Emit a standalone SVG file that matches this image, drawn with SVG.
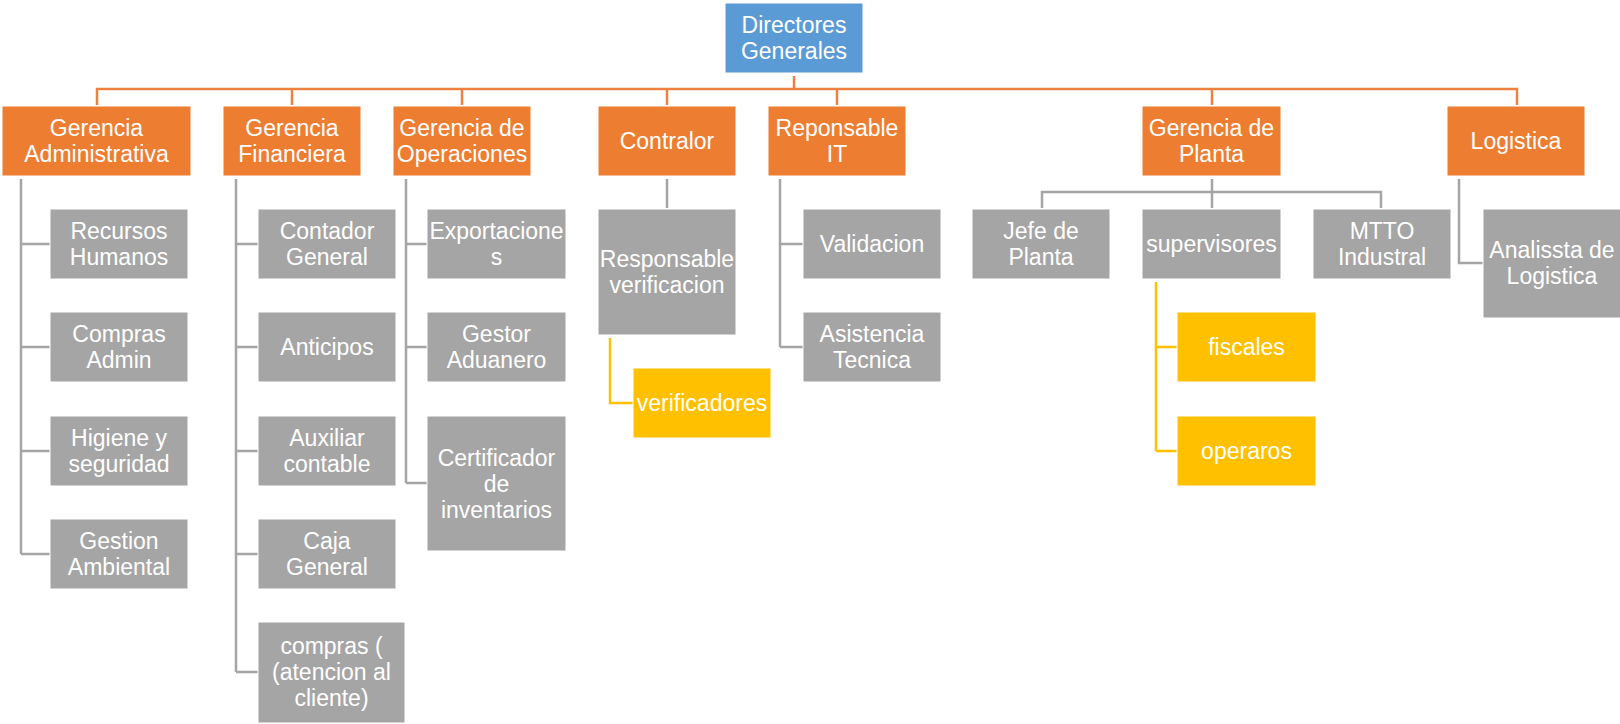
<svg xmlns="http://www.w3.org/2000/svg" width="1620" height="724" viewBox="0 0 1620 724">
<style>
.o{fill:#ED7D31}
.g{fill:#A5A5A5}
.y{fill:#FFC000}
.b{fill:#5B9BD5}
rect{stroke:#fff;stroke-width:1}
text{font-family:"Liberation Sans",Arial,sans-serif;font-size:23px;fill:#fff;text-anchor:middle}
.co{stroke:#EE8142;stroke-width:2.5;fill:none}
.cg{stroke:#A5A5A5;stroke-width:2.5;fill:none}
.cy{stroke:#FFC000;stroke-width:2.5;fill:none}
</style>
<rect width="1620" height="724" fill="#fff" stroke="none"/>
<g id="connectors">
<path class="co" d="M794 76V89M97 105V89H1517V105M292 89V105M462 89V105M667 89V105M837 89V105M1212 89V105"/>
<path class="cg" d="M21 179V554M21 244H50M21 347H50M21 451H50M21 554H50"/>
<path class="cg" d="M236 179V672M236 244H258M236 347H258M236 451H258M236 554H258M236 672H258"/>
<path class="cg" d="M406 179V483M406 244H427M406 347H427M406 483H427"/>
<path class="cg" d="M667 179V208"/>
<path class="cg" d="M780 179V347M780 244H803M780 347H803"/>
<path class="cg" d="M1212 179V208M1042 208V192H1381V208"/>
<path class="cg" d="M1459 179V263H1483"/>
<path class="cy" d="M610 338V403H633"/>
<path class="cy" d="M1156 282V451M1156 347H1177M1156 451H1177"/>
</g>
<g id="n-directores"><rect class="b" x="725" y="3" width="138" height="70"/><text x="794" y="33">Directores</text><text x="794" y="59">Generales</text></g>
<g id="n-admin"><rect class="o" x="2" y="106" width="189" height="70"/><text x="96.5" y="136">Gerencia</text><text x="96.5" y="162">Administrativa</text></g>
<g id="n-financiera"><rect class="o" x="223" y="106" width="138" height="70"/><text x="292" y="136">Gerencia</text><text x="292" y="162">Financiera</text></g>
<g id="n-operaciones"><rect class="o" x="393" y="106" width="138" height="70"/><text x="462" y="136">Gerencia de</text><text x="462" y="162">Operaciones</text></g>
<g id="n-contralor"><rect class="o" x="598" y="106" width="138" height="70"/><text x="667" y="149">Contralor</text></g>
<g id="n-it"><rect class="o" x="768" y="106" width="138" height="70"/><text x="837" y="136">Reponsable</text><text x="837" y="162">IT</text></g>
<g id="n-planta"><rect class="o" x="1142" y="106" width="139" height="70"/><text x="1211.5" y="136">Gerencia de</text><text x="1211.5" y="162">Planta</text></g>
<g id="n-logistica"><rect class="o" x="1447" y="106" width="138" height="70"/><text x="1516" y="149">Logistica</text></g>

<g id="n-rh"><rect class="g" x="50" y="209" width="138" height="70"/><text x="119" y="239">Recursos</text><text x="119" y="265">Humanos</text></g>
<g id="n-compras-admin"><rect class="g" x="50" y="312" width="138" height="70"/><text x="119" y="342">Compras</text><text x="119" y="368">Admin</text></g>
<g id="n-higiene"><rect class="g" x="50" y="416" width="138" height="70"/><text x="119" y="446">Higiene y</text><text x="119" y="472">seguridad</text></g>
<g id="n-gestion"><rect class="g" x="50" y="519" width="138" height="70"/><text x="119" y="549">Gestion</text><text x="119" y="575">Ambiental</text></g>

<g id="n-contador"><rect class="g" x="258" y="209" width="138" height="70"/><text x="327" y="239">Contador</text><text x="327" y="265">General</text></g>
<g id="n-anticipos"><rect class="g" x="258" y="312" width="138" height="70"/><text x="327" y="355">Anticipos</text></g>
<g id="n-auxiliar"><rect class="g" x="258" y="416" width="138" height="70"/><text x="327" y="446">Auxiliar</text><text x="327" y="472">contable</text></g>
<g id="n-caja"><rect class="g" x="258" y="519" width="138" height="70"/><text x="327" y="549">Caja</text><text x="327" y="575">General</text></g>
<g id="n-compras"><rect class="g" x="258" y="622" width="147" height="101"/><text x="331.5" y="654">compras (</text><text x="331.5" y="680">(atencion al</text><text x="331.5" y="706">cliente)</text></g>

<g id="n-export"><rect class="g" x="427" y="209" width="139" height="70"/><text x="496.5" y="239">Exportacione</text><text x="496.5" y="265">s</text></g>
<g id="n-gestor"><rect class="g" x="427" y="312" width="139" height="70"/><text x="496.5" y="342">Gestor</text><text x="496.5" y="368">Aduanero</text></g>
<g id="n-certificador"><rect class="g" x="427" y="416" width="139" height="135"/><text x="496.5" y="466">Certificador</text><text x="496.5" y="492">de</text><text x="496.5" y="518">inventarios</text></g>

<g id="n-resp-verif"><rect class="g" x="598" y="209" width="138" height="126"/><text x="667" y="267">Responsable</text><text x="667" y="293">verificacion</text></g>
<g id="n-verificadores"><rect class="y" x="633" y="368" width="138" height="70"/><text x="702" y="411">verificadores</text></g>

<g id="n-validacion"><rect class="g" x="803" y="209" width="138" height="70"/><text x="872" y="252">Validacion</text></g>
<g id="n-asistencia"><rect class="g" x="803" y="312" width="138" height="70"/><text x="872" y="342">Asistencia</text><text x="872" y="368">Tecnica</text></g>

<g id="n-jefe"><rect class="g" x="972" y="209" width="138" height="70"/><text x="1041" y="239">Jefe de</text><text x="1041" y="265">Planta</text></g>
<g id="n-supervisores"><rect class="g" x="1142" y="209" width="139" height="70"/><text x="1211.5" y="252">supervisores</text></g>
<g id="n-mtto"><rect class="g" x="1313" y="209" width="138" height="70"/><text x="1382" y="239">MTTO</text><text x="1382" y="265">Industral</text></g>
<g id="n-fiscales"><rect class="y" x="1177" y="312" width="139" height="70"/><text x="1246.5" y="355">fiscales</text></g>
<g id="n-operaros"><rect class="y" x="1177" y="416" width="139" height="70"/><text x="1246.5" y="459">operaros</text></g>

<g id="n-analista"><rect class="g" x="1483" y="209" width="138" height="109"/><text x="1552" y="258">Analissta de</text><text x="1552" y="284">Logistica</text></g>
</svg>
